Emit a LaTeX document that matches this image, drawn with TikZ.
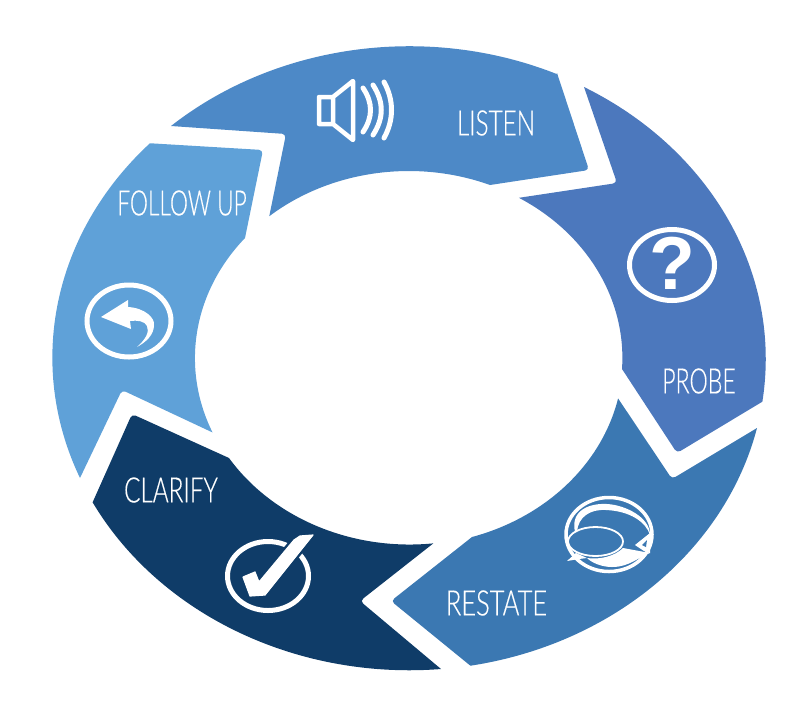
\documentclass[tikz,border=0pt]{standalone}
\usepackage{fontspec}
\newfontfamily\labelfont[FakeStretch=0.68,FakeBold=0.35]{Lato Light}
\setsansfont{Liberation Sans}
\definecolor{listencol}{HTML}{4D89C7}
\definecolor{probecol}{HTML}{4C78BD}
\definecolor{restatecol}{HTML}{3B78B2}
\definecolor{clarifycol}{HTML}{0F3C68}
\definecolor{followcol}{HTML}{5FA1D8}
\tikzstyle{outerring} = [x radius=357, y radius=312]
\tikzstyle{innerring} = [x radius=214, y radius=187]
\tikzstyle{label} = [text=white, font=\labelfont\fontsize{35}{35}\selectfont, inner sep=0pt, transform shape]
\tikzstyle{ring} = [draw=white, line width=5pt]
\tikzstyle{soft} = [rounded corners=4pt]

\begin{document}
\begin{tikzpicture}[x=1pt,y=-1pt]
	
	\useasboundingbox (0,0) rectangle (810,710);
	
	\fill [listencol] (171,126) arc [outerring, start angle=-131.9, end angle=-65.6] -- (557,73) [soft] -- (589,170) [sharp corners] -- (490,185) arc [innerring, start angle=-67.7, end angle=-130.7] [soft] -- (286,134) [sharp corners] -- cycle;
	\fill [probecol] (584,87) arc [outerring, start angle=-60.6, end angle=7.9] [soft] -- (677,453) [sharp corners] -- (622,369) arc [innerring, start angle=3.4, end angle=-58.9] [soft] -- (617,183) [sharp corners] -- cycle;
	\fill [restatecol] (757,428) arc [outerring, start angle=12.9, end angle=80.1] [soft] -- (391,601) [sharp corners] -- (472,537) arc [innerring, start angle=72.9, end angle=12.4] [soft] -- (672,479) [sharp corners] -- cycle;
	\fill [clarifycol] (441,669) arc [outerring, start angle=84.9, end angle=152.5] [soft] -- (132,414) [sharp corners] -- (229,458) arc [innerring, start angle=147.5, end angle=83.6] [soft] -- (360,601) [sharp corners] -- cycle;
	\fill [followcol] (80,478) arc [outerring, start angle=157.3, end angle=223.4] [soft] -- (263,150) [sharp corners] -- (245,238) arc [innerring, start angle=220, end angle=156.6] [soft] -- (122,390) [sharp corners] -- cycle;
	
	\node (listen) [label, xscale=1.02] at (496,123) {LISTEN};
	\node (probe) [label, xscale=.97] at (699,381) {PROBE};
	\node (restate) [label, xscale=1.07] at (496.5,603) {RESTATE};
	\node (clarify) [label, xscale=1.02] at (171,490) {CLARIFY};
	\node (followup) [label, xscale=.955] at (182,203) {FOLLOW UP};
	
	\draw [white, line width=4.5pt, line join=round] (319,97) -- (333,97) -- (353,81) -- (353,140) -- (333,124) -- (319,124) -- cycle (333,97) -- (333,124);
	\draw [white, line width=5pt, line cap=round] (363,88) .. controls (373,103) and (373,117) .. (363,132);
	\draw [white, line width=5pt, line cap=round] (373,85) .. controls (384,102) and (384,118) .. (373,135);
	\draw [white, line width=5pt, line cap=round] (384,82) .. controls (394,100) and (394,120) .. (384,138);
	
	\draw [ring] (672,265) ellipse [x radius=42.5, y radius=35.5];
	\node (question) [text=white, font=\sffamily\bfseries\fontsize{75}{75}\selectfont, inner sep=0pt] at (672,263.5) {?};
	
	\draw [ring, line width=3.5pt] (609,534.5) ellipse [x radius=43, y radius=37];
	\fill [white] (575,532) .. controls (570,510) and (590,503) .. (607,504) .. controls (625,505) and (650,517) .. (650,535) .. controls (646,522) and (630,511) .. (606,510) .. controls (590,509) and (578,517) .. (577,532) -- cycle;
	\fill [white] (650,533) -- (635,545) -- (644,551) -- (650,553) -- cycle;
	\fill [restatecol] (647,540) -- (642,545) -- (646,547) -- cycle;
	\fill [white] (587,558) .. controls (600,560) and (615,556) .. (623,548) -- (650,553) .. controls (640,556) and (630,567) .. (612,567) .. controls (602,567) and (592,563) .. cycle;
	\fill [white] (567,561) -- (576,553) -- (587,558) -- (579,559) -- cycle;
	\draw [white, line width=1.8pt] (595.5,541.5) ellipse [x radius=27.5, y radius=14.5];
	
	\draw [ring] (268,576) ellipse [x radius=40.5, y radius=34.5];
	\filldraw [white, line width=1.2pt, line join=round, preaction={draw=clarifycol, line width=6pt}] (243,577) -- (255,572) -- (259,582) -- (294,540) -- (300,536) -- (313,535) -- (265,595) -- (250,596) -- cycle;
	
	\draw [ring] (129,321) ellipse [x radius=42, y radius=36];
	\fill [white] (101,317) -- (128,300) -- (128,307) .. controls (145,308) and (155,318) .. (154,325) .. controls (154,335) and (146,342) .. (137,347) .. controls (145,340) and (150,332) .. (147,326) .. controls (145,321) and (137,320) .. (130,321) -- (131,329) -- cycle;
	
\end{tikzpicture}
\end{document}
